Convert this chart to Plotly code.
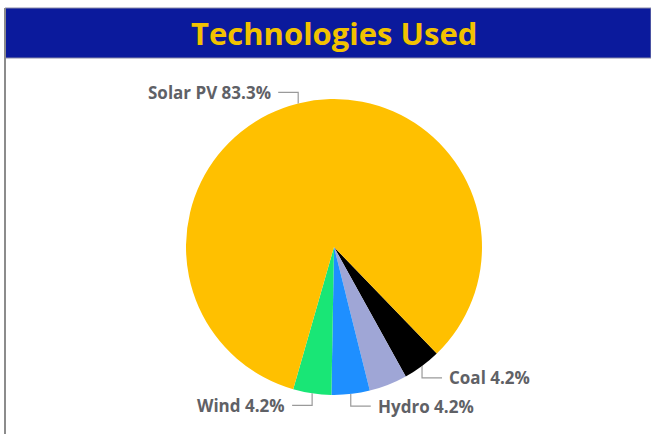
import math

import plotly.graph_objects as go

# data
labels = ["Coal", "Other", "Hydro", "Wind", "Solar PV"]
values = [1, 1, 1, 1, 20]
show_label = [True, False, True, True, True]
colors = ["#000000", "#9fa6d6", "#1e8fff", "#19e676", "#ffc000"]

_W, _H = 651, 434
_BAR_BLUE = "#0b1a9c"
_GOLD = "#f2c200"
_GREY_TEXT = "#5f6166"
_LINE = "#9a9a9a"

# pie geometry in pixels
cx, cy, r = 334, 247, 148
start_deg = 136

fig = go.Figure(
    go.Pie(
        labels=labels,
        values=values,
        sort=False,
        direction="clockwise",
        rotation=start_deg,
        marker={"colors": colors, "line": {"width": 0}},
        textinfo="none",
        hoverinfo="label+percent",
        domain={
            "x": [(cx - r) / _W, (cx + r) / _W],
            "y": [1 - (cy + r) / _H, 1 - (cy - r) / _H],
        },
        showlegend=False,
    )
)


def px(x, y):
    return x / _W, 1 - y / _H


total = sum(values)
shapes = []
annotations = []
acc = 0.0
for lab, val, show in zip(labels, values, show_label):
    mid = start_deg + 360 * (acc + val / 2) / total
    acc += val
    if not show:
        continue
    a = math.radians(mid)
    x0 = cx + r * math.sin(a)
    y0 = cy - r * math.cos(a)
    y1 = y0 + (12 if y0 > cy else -11)
    side = 1 if x0 > cx else -1
    x2 = x0 + side * 20
    ax0, ay0 = px(x0, y0)
    ax1, ay1 = px(x0, y1)
    ax2, ay2 = px(x2, y1)
    shapes.append(
        {
            "type": "path",
            "xref": "paper",
            "yref": "paper",
            "path": f"M {ax0},{ay0} L {ax1},{ay1} L {ax2},{ay2}",
            "line": {"color": _LINE, "width": 1.2},
        }
    )
    tx, ty = px(x2 + side * 5, y1)
    annotations.append(
        {
            "x": tx,
            "y": ty,
            "xref": "paper",
            "yref": "paper",
            "text": f"{lab} {100 * val / total:.1f}%",
            "showarrow": False,
            "xanchor": "left" if side > 0 else "right",
            "yanchor": "middle",
            "font": {"family": "Open Sans", "size": 17, "color": _GREY_TEXT, "weight": 700},
        }
    )

# frame and title bar
shapes.append(
    {
        "type": "rect",
        "xref": "paper",
        "yref": "paper",
        "x0": 5 / _W,
        "x1": 1.0,
        "y0": 1 - 58 / _H,
        "y1": 1 - 8 / _H,
        "fillcolor": _BAR_BLUE,
        "line": {"color": "#8a8aa8", "width": 1},
        "layer": "below",
    }
)
shapes.append(
    {
        "type": "line",
        "xref": "paper",
        "yref": "paper",
        "x0": 5 / _W,
        "x1": 5 / _W,
        "y0": 0,
        "y1": 1 - 8 / _H,
        "line": {"color": "#8c8c8c", "width": 2},
    }
)
annotations.append(
    {
        "x": 334 / _W,
        "y": 1 - 33 / _H,
        "xref": "paper",
        "yref": "paper",
        "text": "Technologies Used",
        "showarrow": False,
        "xanchor": "center",
        "yanchor": "middle",
        "font": {"family": "Open Sans", "size": 31, "color": _GOLD, "weight": 700},
    }
)

fig.update_layout(
    width=_W,
    height=_H,
    margin={"l": 0, "r": 0, "t": 0, "b": 0},
    paper_bgcolor="#ffffff",
    plot_bgcolor="#ffffff",
    shapes=shapes,
    annotations=annotations,
)

fig.write_html(
    "out.html",
    config={"displayModeBar": False},
    post_script="document.body.style.margin = '0'; document.body.style.overflow = 'hidden';",
)
